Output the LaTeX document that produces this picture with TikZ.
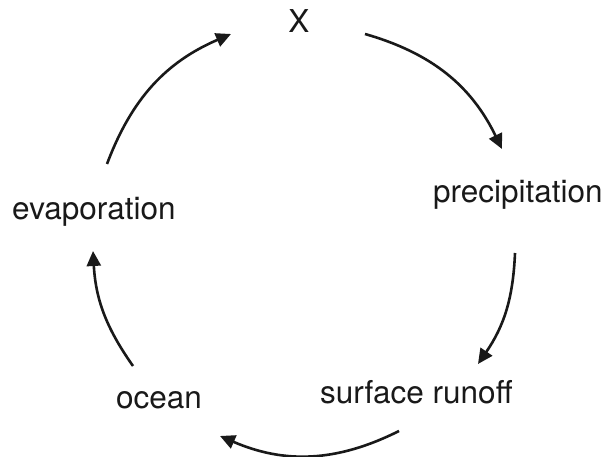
\documentclass[tikz,border=0pt]{standalone}
\usepackage{fontspec}
\setmainfont{TeX Gyre Heros}
\usetikzlibrary{arrows.meta}
\begin{document}
\begin{tikzpicture}[x=1bp,y=1bp,
  lbl/.style={font=\fontsize{31.5bp}{36bp}\selectfont, text=black!90, inner sep=0pt, anchor=base west},
  cyc/.style={line width=2.6bp, draw=black!90, -{Triangle[length=15bp,width=14bp]}}]
\useasboundingbox (0,0) rectangle (612,-457);
\node[lbl, anchor=base] (x) at (299,-33) {X};
\node[lbl] (prec) at (433,-203) {precipitation};
\node[lbl] (surf) at (320,-403) {surface runoff};
\node[lbl] (ocean) at (116,-408) {ocean};
\node[lbl] (evap) at (12,-220) {evaporation};
\coordinate (a1) at (107,-164);
\coordinate (b1) at (231,-34);
\coordinate (a2) at (365,-34);
\coordinate (b2) at (502,-149);
\coordinate (a3) at (515,-253);
\coordinate (b3) at (478,-364);
\coordinate (a4) at (399,-431);
\coordinate (b4) at (220,-436);
\coordinate (a5) at (133,-366);
\coordinate (b5) at (93,-251);
\draw[cyc] (a1) to[bend left=23] (b1);
\draw[cyc] (a2) to[bend left=24] (b2);
\draw[cyc] (a3) to[bend left=16] (b3);
\draw[cyc] (a4) to[bend left=25] (b4);
\draw[cyc] (a5) to[bend left=16] (b5);
\end{tikzpicture}
\end{document}
